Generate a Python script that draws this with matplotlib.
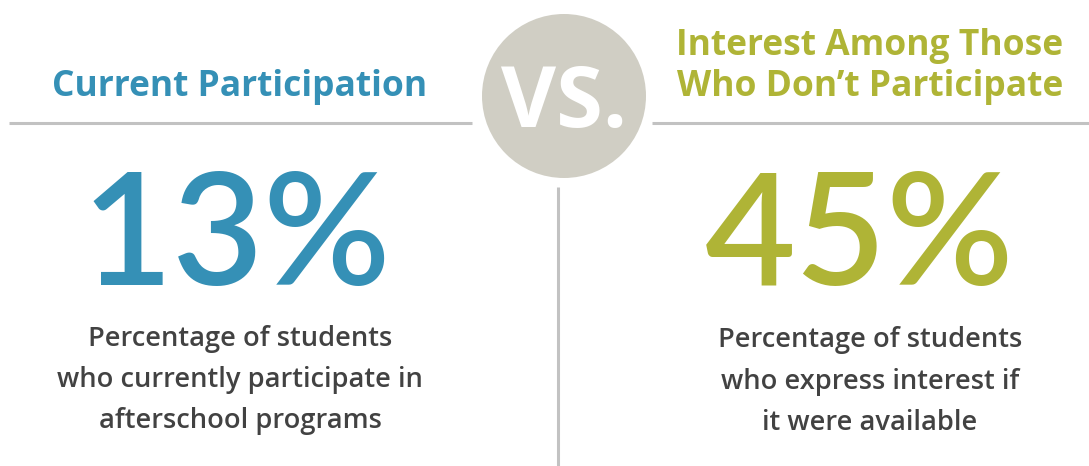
import matplotlib
matplotlib.use("Agg")
import matplotlib.pyplot as plt
from matplotlib.patches import Circle

# data
values = [13, 45]
headers = [["Current Participation"], ["Interest Among Those", "Who Don\u2019t Participate"]]
notes = [["Percentage of students", "who currently participate in", "afterschool programs"],
         ["Percentage of students", "who express interest if", "it were available"]]
colors = ["#3590b6", "#afb436"]

W, H = 1089, 466
fig = plt.figure(figsize=(W / 100, H / 100), dpi=100)
ax = fig.add_axes([0, 0, 1, 1])
ax.set_xlim(0, W)
ax.set_ylim(H, 0)
ax.axis("off")

line_col = "#c2c2c2"
ax.plot([9, 472], [123, 123], color=line_col, lw=2.2, solid_capstyle="butt")
ax.plot([652, W], [123, 123], color=line_col, lw=2.2, solid_capstyle="butt")
ax.plot([558, 558], [187, H], color=line_col, lw=2.2, solid_capstyle="butt")

ax.add_patch(Circle((564, 96), 82, color="#d0cec4", lw=0))
ax.text(564, 127, "VS.", color="white", fontsize=61, fontweight="bold",
        family="Open Sans", ha="center", va="baseline")

xs = [240, 870]
num_x = [236, 860]
head_base = [[96], [55, 96]]
note_base = [[346, 387, 428], [347, 389, 430]]

for i in range(2):
    for txt, yb in zip(headers[i], head_base[i]):
        ax.text(xs[i], yb, txt, color=colors[i], fontsize=25.5, fontweight="bold",
                family="Open Sans", ha="center", va="baseline")
    ax.text(num_x[i], 285, f"{values[i]}%", color=colors[i], fontsize=113,
            fontweight="semibold", family="Lato", ha="center", va="baseline")
    for txt, yb in zip(notes[i], note_base[i]):
        ax.text(xs[i], yb, txt, color="#424242", fontsize=19.6, fontweight="semibold",
                family="Open Sans", ha="center", va="baseline")

fig.savefig("out.png", dpi=100)
